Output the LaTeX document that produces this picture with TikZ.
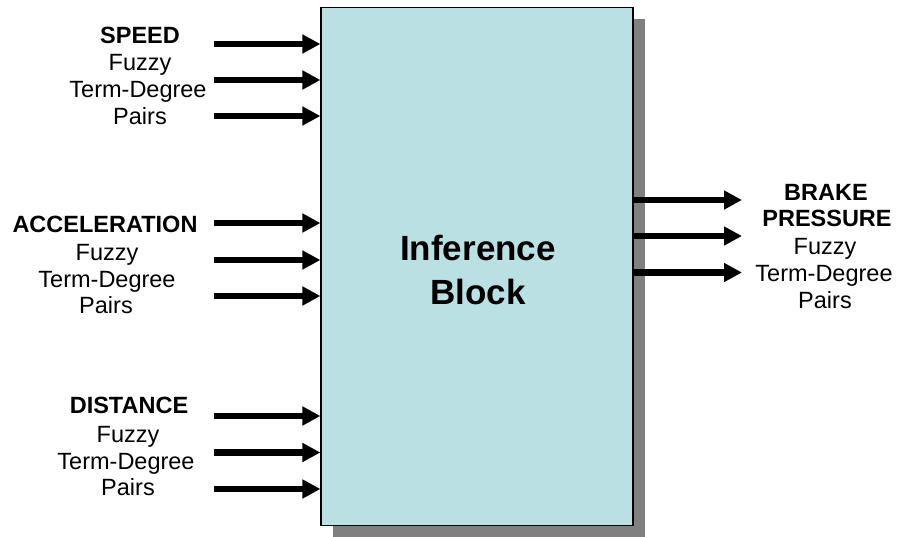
\documentclass[tikz,border=0pt]{standalone}
\usepackage{fontspec}
\setmainfont{Liberation Sans}
\usetikzlibrary{arrows.meta,shadows}
\definecolor{blockfill}{RGB}{187,224,227}
\definecolor{shadowgray}{RGB}{128,128,128}
\begin{document}
\begin{tikzpicture}[x=1pt,y=-1pt,
  lbl/.style={anchor=base,inner sep=0pt,font=\fontsize{23.5}{28}\selectfont},
  lblbold/.style={lbl,font=\fontsize{23.5}{28}\selectfont\bfseries},
  fatarrow/.style={line width=6.5pt,-{Triangle[length=18pt,width=18pt]}}]
\useasboundingbox (0,0) rectangle (900,536);

% central inference block with its offset shadow
\node[draw=black,line width=1.1pt,fill=blockfill,inner sep=0pt,
      minimum width=312pt,minimum height=518pt,
      drop shadow={shadow xshift=12pt,shadow yshift=-11pt,fill=shadowgray,opacity=1}]
  (blk) at (477,266.5) {};
\node[lblbold,anchor=center,font=\fontsize{35}{44}\selectfont\bfseries,align=center]
  (title) at (478,270) {Inference\\Block};

% input arrow tails
\foreach \n/\y in {a1/44,a2/80,a3/116,b1/223,b2/260,b3/296,c1/416,c2/452.5,c3/489}
  \coordinate (\n) at (214,\y);
\foreach \n in {a1,a2,a3,b1,b2,b3,c1,c2,c3}
  \draw[fatarrow] (\n) -- (\n -| blk.west);

% output arrows
\foreach \n/\y in {o1/200,o2/236,o3/272.5}
  \coordinate (\n) at (742,\y);
\foreach \n in {o1,o2,o3}
  \draw[fatarrow] (\n -| blk.east) -- (\n);

% input labels
\node[lblbold] (spd) at (140,43) {SPEED};
\node[lbl] (spd1) at (140,70) {Fuzzy};
\node[lbl] (spd2) at (138,97) {Term-Degree};
\node[lbl] (spd3) at (140,124) {Pairs};

\node[lblbold] (acc) at (105,232) {ACCELERATION};
\node[lbl] (acc1) at (107,260) {Fuzzy};
\node[lbl] (acc2) at (107,287) {Term-Degree};
\node[lbl] (acc3) at (106,313) {Pairs};

\node[lblbold] (dst) at (129,413) {DISTANCE};
\node[lbl] (dst1) at (128,442) {Fuzzy};
\node[lbl] (dst2) at (126,469) {Term-Degree};
\node[lbl] (dst3) at (128,495) {Pairs};

% output labels
\node[lblbold] (brk) at (826,200) {BRAKE};
\node[lblbold] (prs) at (827,226) {PRESSURE};
\node[lbl] (brk1) at (825,254) {Fuzzy};
\node[lbl] (brk2) at (824,281) {Term-Degree};
\node[lbl] (brk3) at (825,308) {Pairs};
\end{tikzpicture}
\end{document}
